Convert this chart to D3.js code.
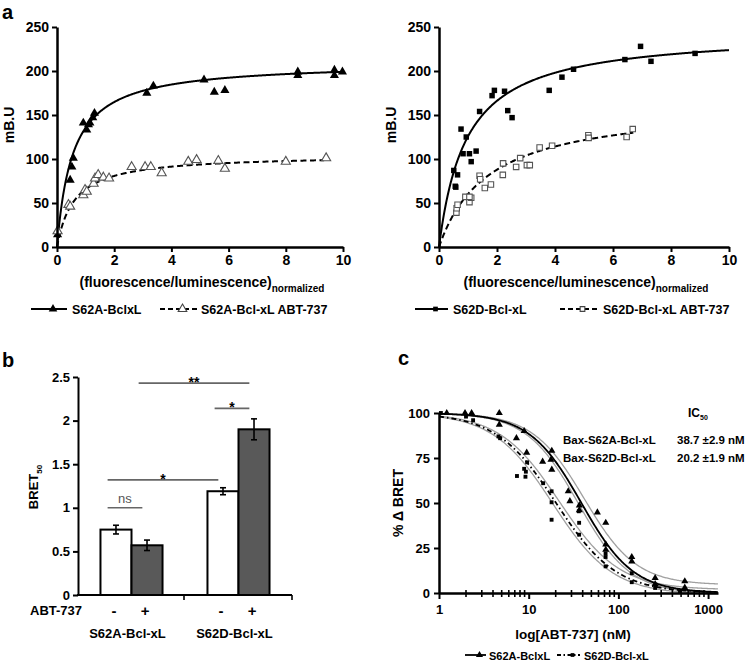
<!DOCTYPE html>
<html><head><meta charset="utf-8">
<script src="https://cdn.jsdelivr.net/npm/d3@7/dist/d3.min.js"></script>
<style>
body{margin:0;background:#fff;}
svg text{font-family:"Liberation Sans",Arial,sans-serif;font-weight:bold;fill:#000;}
</style></head><body>
<svg id="chart" width="750" height="663" xmlns="http://www.w3.org/2000/svg"></svg>
<script>
// ---------- DATA ----------
// Panel a, left: S62A-BclxL (filled triangles) and S62A-Bcl-xL ABT-737 (open triangles)
const aLeftSolidX = [0.02,0.46,0.52,0.57,0.92,1.04,1.10,1.15,1.25,1.31,3.14,3.37,5.14,5.50,5.87,8.42,8.42,9.70,9.70,9.98];
const aLeftSolidY = [14,76,91,101,141,133,139,141,147,152,175,183,190,176,178,199,195,201,195,199];
const aLeftOpenX = [0.02,0.40,0.46,0.92,0.98,1.04,1.28,1.33,1.44,1.62,1.82,2.61,3.08,3.28,3.66,4.59,4.88,5.64,5.87,8.00,9.41];
const aLeftOpenY = [18,48,46,59,65,63,72,78,82,79,78,91,91,91,84,97,99,98,89,97,101];
// Panel a, right: S62D-Bcl-xL (filled squares) and S62D-Bcl-xL ABT-737 (open squares)
const aRightSolidX = [0.51,0.64,0.56,0.58,0.76,0.94,0.83,1.05,1.11,1.28,1.40,1.83,1.91,2.26,2.37,2.52,3.80,4.24,4.64,6.41,6.95,7.31,8.83];
const aRightSolidY = [87,82,69,68,134,125,106,106,97,109,154,172,178,177,155,147,178,193,202,213,228,211,220];
const aRightOpenX = [0.60,0.61,0.64,0.91,1.05,1.11,1.05,1.40,1.42,1.58,1.79,2.20,2.21,2.66,2.80,3.03,3.13,3.47,3.90,5.15,5.16,6.47,6.68];
const aRightOpenY = [39,44,48,57,51,56,57,81,77,67,71,82,95,91,101,93,93,113,115,127,124,125,134];
// One-site binding fits (Bmax, Kd) for [S62A, S62A+ABT, S62D, S62D+ABT]
const fitBmax = [210, 105, 245, 163];
const fitKd = [0.55, 0.60, 0.95, 1.71];
const fitXmax = [10, 9.35, 10, 6.7];
const aTicksX = [0,2,4,6,8,10];
const aTicksY = [0,50,100,150,200,250];

// Panel b: BRET50 bars
const bGroups = ["S62A-Bcl-xL","S62D-Bcl-xL"];
const bTreat = ["-","+"];
const bValues = [0.75, 0.57, 1.19, 1.90];
const bErrors = [0.05, 0.06, 0.04, 0.12];
const bTicksY = [0,0.5,1,1.5,2,2.5];
// significance brackets: start bar, end bar, level, label
const sigStart = [0, 0, 1, 2];
const sigEnd = [1, 2, 3, 3];
const sigLevel = [1.0, 1.32, 2.43, 2.14];
const sigLabel = ["ns", "*", "**", "*"];

// Panel c: dose-response
const cAX = [1.22,1.95,2.31,4.7,4.7,7.3,8.9,9.5,14.3,17.7,18.1,18.1,27.6,28.8,36.7,36.7,58.3,72.3,72.3,72.3,141,141,257,257,550,550];
const cAY = [100,100,100,100,93.5,86,90,78,73,74,79,68.5,56.5,51,48.7,46,44.8,39,24,27,20,17.6,8.3,5,6.5,3];
const cDX = [1.05,2.0,2.4,4.6,4.8,7.4,8.9,9.2,9.6,9.3,14.5,18,18,18,36.2,36.5,36.5,72,72,72,141,141,257,485];
const cDY = [100,98,96,87,86,65,69,64.6,72.6,67.4,61,56.5,50.4,40.7,45.4,39,32.4,22,20,14.8,11,6,2.8,1];
const cIC50 = [38.7, 20.2];
const cHill = [1.5, 1.3];
// 95% confidence bands: [upper, lower] IC50 and bottom for each curve
const cBandIC50 = [[41.8, 35.8], [21.9, 18.6]];
const cBandBottom = [[4.5, -0.5], [1.8, -0.8]];
const cTicksX = [1,10,100,1000];
const cTicksY = [0,25,50,75,100];
const cICLabels = ["Bax-S62A-Bcl-xL","Bax-S62D-Bcl-xL"];
const cICValues = ["38.7 \u00b12.9 nM","20.2 \u00b11.9 nM"];

// ---------- DRAW ----------
const svg = d3.select("#chart");
const FONT = '"Liberation Sans",Arial,sans-serif';

function styleAxis(g, fs){
  g.attr("font-family", FONT).attr("font-size", fs).attr("font-weight","bold");
  g.select(".domain").attr("stroke-width", 2.5);
  g.selectAll(".tick line").attr("stroke-width", 2);
  g.selectAll(".tick text").attr("fill","#000");
}

function panelLabel(t, x, y){
  svg.append("text").attr("x",x).attr("y",y).attr("font-size",20).text(t);
}

function hyper(bmax, kd){ return x => bmax*x/(kd+x); }

function bindingPanel(xr, yLabelX, solidX, solidY, openX, openY, iSolid, iOpen, sym, symSize){
  const x = d3.scaleLinear().domain([0,10]).range(xr);
  const y = d3.scaleLinear().domain([0,250]).range([247,27]);
  const g = svg.append("g");
  const line = d3.line().x(d=>x(d[0])).y(d=>y(d[1]));
  [iSolid, iOpen].forEach((fi, k) => {
    const f = hyper(fitBmax[fi], fitKd[fi]);
    const pts = d3.range(0, fitXmax[fi]+1e-9, 0.02).map(v=>[v, f(v)]);
    g.append("path").attr("d", line(pts)).attr("fill","none").attr("stroke","#000")
      .attr("stroke-width", 2).attr("stroke-dasharray", k ? "6,3.5" : null);
  });
  const symF = d3.symbol().type(sym).size(symSize);
  g.selectAll(".sp").data(solidX).enter().append("path")
    .attr("d", symF).attr("transform",(d,i)=>`translate(${x(d)},${y(solidY[i])})`).attr("fill","#000");
  g.selectAll(".op").data(openX).enter().append("path")
    .attr("d", symF).attr("transform",(d,i)=>`translate(${x(d)},${y(openY[i])})`)
    .attr("fill","#fff").attr("stroke","#555").attr("stroke-width",1.1);
  const gx = g.append("g").attr("transform","translate(0,247)")
    .call(d3.axisBottom(x).tickValues(aTicksX).tickSize(5).tickSizeOuter(0).tickPadding(3));
  styleAxis(gx, 14);
  const gy = g.append("g").attr("transform",`translate(${xr[0]},0)`)
    .call(d3.axisLeft(y).tickValues(aTicksY).tickSize(5).tickSizeOuter(0).tickPadding(3));
  styleAxis(gy, 14);
  g.append("text").attr("transform",`translate(${yLabelX},125) rotate(-90)`).attr("text-anchor","middle")
    .attr("font-size",14).text("mB.U");
  const xl = g.append("text").attr("x",(xr[0]+xr[1])/2+2).attr("y",287).attr("text-anchor","middle").attr("font-size",14);
  xl.append("tspan").text("(fluorescence/luminescence)");
  xl.append("tspan").attr("dy",5).attr("font-size",10).text("normalized");
  return {x,y,g};
}

function legendItem(x1, x2, yy, dash, sym, symSize, filled, label, tx, fs){
  svg.append("line").attr("x1",x1).attr("x2",x2).attr("y1",yy).attr("y2",yy)
    .attr("stroke","#000").attr("stroke-width",1.8).attr("stroke-dasharray",dash);
  svg.append("path").attr("d", d3.symbol().type(sym).size(symSize)())
    .attr("transform",`translate(${(x1+x2)/2+4},${yy})`)
    .attr("fill", filled ? "#000" : "#fff").attr("stroke", filled ? "none" : "#444").attr("stroke-width",1.1);
  svg.append("text").attr("x",tx).attr("y",yy+4.5).attr("font-size",fs).text(label);
}

// Panel a
panelLabel("a", 2, 19);
bindingPanel([57,343], 14, aLeftSolidX, aLeftSolidY, aLeftOpenX, aLeftOpenY, 0, 1, d3.symbolTriangle, 36);
bindingPanel([439,729], 396, aRightSolidX, aRightSolidY, aRightOpenX, aRightOpenY, 2, 3, d3.symbolSquare, 30);
legendItem(31, 67, 309, null, d3.symbolTriangle, 32, true, "S62A-BclxL", 72, 12.5);
legendItem(160, 197, 309, "5,3", d3.symbolTriangle, 32, false, "S62A-Bcl-xL ABT-737", 201, 12.5);
legendItem(415, 448, 309, null, d3.symbolSquare, 22, true, "S62D-Bcl-xL", 453, 12.5);
legendItem(560, 597, 309, "5,3", d3.symbolSquare, 22, false, "S62D-Bcl-xL ABT-737", 603, 12.5);

// Panel b
panelLabel("b", 2, 367);
{
  const y = d3.scaleLinear().domain([0,2.5]).range([595,377]);
  const xg = d3.scaleBand().domain(bGroups).range([78,292]).paddingInner(0.42).paddingOuter(0.21);
  const xs = d3.scaleBand().domain(bTreat).range([0, xg.bandwidth()]);
  const g = svg.append("g");
  const bars = [];
  bGroups.forEach((grp, gi) => bTreat.forEach((t, ti) => {
    const i = gi*2+ti;
    bars.push({x: xg(grp)+xs(t), w: xs.bandwidth(), v: bValues[i], e: bErrors[i], t});
  }));
  g.selectAll(".bar").data(bars).enter().append("rect")
    .attr("x",d=>d.x).attr("width",d=>d.w).attr("y",d=>y(d.v)).attr("height",d=>y(0)-y(d.v))
    .attr("fill",d=>d.t==="+"?"#595959":"#fff").attr("stroke","#000").attr("stroke-width",2);
  bars.forEach(d=>{
    const cx = d.x + d.w/2;
    g.append("line").attr("x1",cx).attr("x2",cx).attr("y1",y(d.v+d.e)).attr("y2",y(d.v-d.e)).attr("stroke","#000").attr("stroke-width",1.6);
    [d.v+d.e, d.v-d.e].forEach(vv => g.append("line").attr("x1",cx-3).attr("x2",cx+3).attr("y1",y(vv)).attr("y2",y(vv)).attr("stroke","#000").attr("stroke-width",1.6));
  });
  // significance
  sigLabel.forEach((lab, k) => {
    const b1 = bars[sigStart[k]], b2 = bars[sigEnd[k]];
    const x1 = b1.x + b1.w*0.23, x2 = b2.x + b2.w*0.35;
    const yy = y(sigLevel[k]);
    g.append("line").attr("x1",x1).attr("x2",x2).attr("y1",yy).attr("y2",yy).attr("stroke","#666").attr("stroke-width",1.6);
    const tt = g.append("text").attr("x",(x1+x2)/2).attr("text-anchor","middle").text(lab);
    if (lab === "ns") tt.attr("y", yy-5).attr("font-size",13).attr("font-weight","normal").style("font-weight","normal").attr("fill","#555").style("fill","#555");
    else tt.attr("y", yy+4).attr("font-size",14);
  });
  const gy = g.append("g").attr("transform","translate(78,0)")
    .call(d3.axisLeft(y).tickValues(bTicksY).tickFormat(d3.format("~g")).tickSize(5).tickSizeOuter(0).tickPadding(3));
  styleAxis(gy, 13);
  gy.select(".domain").attr("stroke-width",2);
  g.append("line").attr("x1",77).attr("x2",292).attr("y1",595).attr("y2",595).attr("stroke","#000").attr("stroke-width",2);
  [184, 292].forEach(px => g.append("line").attr("x1",px).attr("x2",px).attr("y1",595).attr("y2",600).attr("stroke","#000").attr("stroke-width",1.6));
  g.append("text").attr("x",30).attr("y",615).attr("font-size",13).text("ABT-737");
  bars.forEach(d => g.append("text").attr("x",d.x+d.w/2-2).attr("y",616).attr("text-anchor","middle").attr("font-size",15).text(d.t));
  bGroups.forEach(grp => g.append("text").attr("x",xg(grp)+xg.bandwidth()/2-4).attr("y",638).attr("text-anchor","middle").attr("font-size",13).text(grp));
  const yl = g.append("text").attr("transform","translate(38,487) rotate(-90)").attr("text-anchor","middle").attr("font-size",13);
  yl.append("tspan").text("BRET");
  yl.append("tspan").attr("dy",4).attr("font-size",8).text("50");
}

// Panel c
panelLabel("c", 398, 365);
{
  const x = d3.scaleLog().domain([1,1290]).range([439,718]);
  const y = d3.scaleLinear().domain([0,100]).range([593,413]);
  const g = svg.append("g");
  const line = d3.line().x(d=>x(d[0])).y(d=>y(d[1]));
  const logistic = (ic, h, bottom) => v => bottom + (100-bottom)/(1+Math.pow(v/ic, h));
  const xsamp = d3.range(0, Math.log10(1290)+1e-9, 0.01).map(e=>Math.pow(10,e));
  [0,1].forEach(ci => {
    [0,1].forEach(bi => {
      const f = logistic(cBandIC50[ci][bi], cHill[ci], cBandBottom[ci][bi]);
      g.append("path").attr("d", line(xsamp.map(v=>[v, f(v)]))).attr("fill","none")
        .attr("stroke","#a0a0a0").attr("stroke-width",1.3);
    });
  });
  [0,1].forEach(ci => {
    const f = logistic(cIC50[ci], cHill[ci], 0);
    g.append("path").attr("d", line(xsamp.map(v=>[v, f(v)]))).attr("fill","none")
      .attr("stroke","#000").attr("stroke-width",1.8).attr("stroke-dasharray", ci ? "5,3,1.5,3" : null);
  });
  const tri = d3.symbol().type(d3.symbolTriangle).size(22);
  const cir = d3.symbol().type(d3.symbolSquare).size(15);
  g.selectAll(".ta").data(cAX).enter().append("path").attr("d",tri)
    .attr("transform",(d,i)=>`translate(${x(d)},${y(cAY[i])})`).attr("fill","#000");
  g.selectAll(".td").data(cDX).enter().append("path").attr("d",cir)
    .attr("transform",(d,i)=>`translate(${x(d)},${y(cDY[i])})`).attr("fill","#000");
  const gx = g.append("g").attr("transform","translate(0,593)")
    .call(d3.axisBottom(x).tickValues(cTicksX).tickFormat(d3.format("d")).tickSize(6).tickSizeOuter(0).tickPadding(6));
  styleAxis(gx, 13);
  // minor log ticks
  const minor = [];
  [1,10,100,1000].forEach(dec => d3.range(2,10).forEach(m => { if (dec*m <= 1290) minor.push(dec*m); }));
  g.selectAll(".mt").data(minor).enter().append("line")
    .attr("x1",d=>x(d)).attr("x2",d=>x(d)).attr("y1",590).attr("y2",597).attr("stroke","#000").attr("stroke-width",1.6);
  const gy = g.append("g").attr("transform","translate(439,0)")
    .call(d3.axisLeft(y).tickValues(cTicksY).tickSize(5).tickSizeOuter(0).tickPadding(4));
  styleAxis(gy, 13);
  g.append("text").attr("transform","translate(403,503) rotate(-90)").attr("text-anchor","middle").attr("font-size",14).text("% \u0394 BRET");
  g.append("text").attr("x",573).attr("y",639).attr("text-anchor","middle").attr("font-size",13.5).text("log[ABT-737] (nM)");
  const ic = g.append("text").attr("x",688).attr("y",417).attr("font-size",12);
  ic.append("tspan").text("IC");
  ic.append("tspan").attr("dy",3).attr("font-size",7).text("50");
  cICLabels.forEach((lab,i) => {
    g.append("text").attr("x",563).attr("y",444+i*18).attr("font-size",11.5).text(lab);
    g.append("text").attr("x",677).attr("y",444+i*18).attr("font-size",11.5).text(cICValues[i]);
  });
}
legendItem(465, 486, 655, null, d3.symbolTriangle, 22, true, "S62A-BclxL", 489, 11);
legendItem(557, 580, 655, "4,2.5,1.5,2.5", d3.symbolSquare, 14, true, "S62D-Bcl-xL", 584, 11);
</script>
</body></html>
